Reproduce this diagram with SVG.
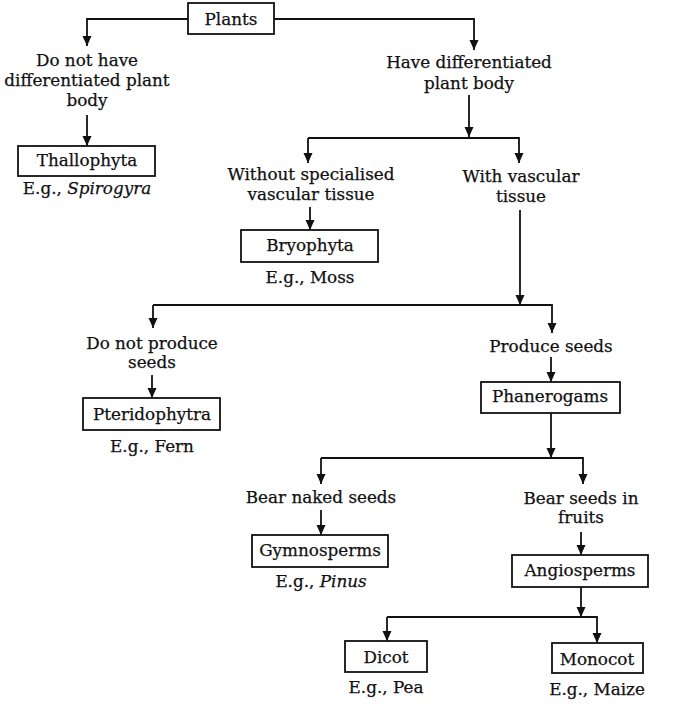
<svg xmlns="http://www.w3.org/2000/svg" width="687" height="722" viewBox="0 0 687 722">
<defs>
<marker id="ah" markerUnits="userSpaceOnUse" markerWidth="10" markerHeight="10" refX="10" refY="4.5" orient="auto">
<path d="M0,0 L10,4.5 L0,9 z" fill="#111"/>
</marker>
</defs>
<style>
text{font-family:"DejaVu Serif","Liberation Serif",serif;font-size:16.8px;fill:#111;stroke:#111;stroke-width:0.25;text-anchor:middle}
.box{fill:#fff;stroke:#111;stroke-width:1.8}
.c{fill:none;stroke:#111;stroke-width:1.8}
.a{marker-end:url(#ah)}
</style>
<rect width="687" height="722" fill="#fff"/>
<g id="connectors">
<path class="c a" d="M188,19 H87 V46"/>
<path class="c a" d="M274,19 H474 V50"/>
<path class="c a" d="M87,115 V146"/>
<path class="c a" d="M469,95 V137"/>
<path class="c a" d="M308,138 H519 V163"/>
<path class="c a" d="M308,138 V163"/>
<path class="c a" d="M310,207 V230"/>
<path class="c a" d="M520,210 V305"/>
<path class="c a" d="M153,305 H552 V333"/>
<path class="c a" d="M153,305 V328"/>
<path class="c a" d="M152,375 V398"/>
<path class="c a" d="M551,357 V382"/>
<path class="c a" d="M551,413 V458"/>
<path class="c a" d="M321,458 H583 V484"/>
<path class="c a" d="M321,458 V484"/>
<path class="c a" d="M321,510 V535"/>
<path class="c a" d="M581,532 V555"/>
<path class="c a" d="M581,587 V617"/>
<path class="c a" d="M387,617 H597 V643"/>
<path class="c a" d="M387,617 V641"/>
</g>
<g id="plants"><rect class="box" x="188" y="3" width="86" height="31"/><text x="231" y="25">Plants</text></g>
<g id="no-diff"><text x="87" y="66">Do not have</text><text x="87" y="86">differentiated plant</text><text x="87" y="106">body</text></g>
<g id="have-diff"><text x="469" y="68">Have differentiated</text><text x="469" y="89">plant body</text></g>
<g id="thallophyta"><rect class="box" x="18" y="146" width="137" height="30"/><text x="87" y="166">Thallophyta</text><text x="87" y="194">E.g., <tspan font-style="italic">Spirogyra</tspan></text></g>
<g id="without-vascular"><text x="311" y="180">Without specialised</text><text x="311" y="200">vascular tissue</text></g>
<g id="with-vascular"><text x="521" y="182">With vascular</text><text x="521" y="202">tissue</text></g>
<g id="bryophyta"><rect class="box" x="241" y="230" width="137" height="32"/><text x="310" y="251">Bryophyta</text><text x="310" y="283">E.g., Moss</text></g>
<g id="no-seeds"><text x="152" y="349">Do not produce</text><text x="152" y="368">seeds</text></g>
<g id="pteridophytra"><rect class="box" x="83" y="398" width="137" height="32"/><text x="152" y="420">Pteridophytra</text><text x="152" y="452">E.g., Fern</text></g>
<g id="produce-seeds"><text x="551" y="352">Produce seeds</text></g>
<g id="phanerogams"><rect class="box" x="481" y="382" width="139" height="31"/><text x="550" y="402">Phanerogams</text></g>
<g id="naked-seeds"><text x="321" y="503">Bear naked seeds</text></g>
<g id="seeds-fruits"><text x="581" y="504">Bear seeds in</text><text x="581" y="523">fruits</text></g>
<g id="gymnosperms"><rect class="box" x="252" y="535" width="136" height="32"/><text x="320" y="556">Gymnosperms</text><text x="321" y="587">E.g., <tspan font-style="italic">Pinus</tspan></text></g>
<g id="angiosperms"><rect class="box" x="512" y="555" width="136" height="32"/><text x="580" y="576">Angiosperms</text></g>
<g id="dicot"><rect class="box" x="345" y="641" width="82" height="31"/><text x="386" y="663">Dicot</text><text x="386" y="693">E.g., Pea</text></g>
<g id="monocot"><rect class="box" x="552" y="643" width="91" height="30"/><text x="597" y="665">Monocot</text><text x="597" y="695">E.g., Maize</text></g>
</svg>
